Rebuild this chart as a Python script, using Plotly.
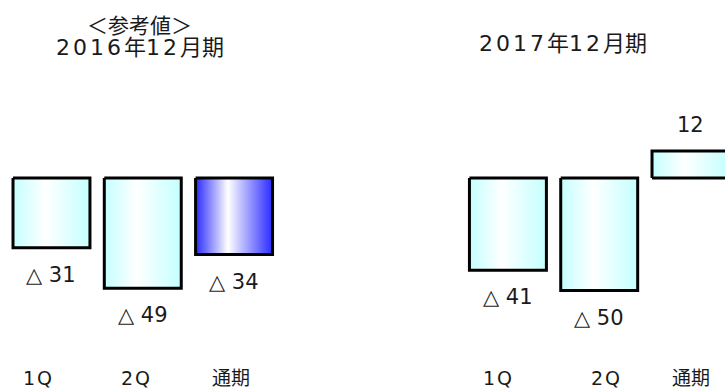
import re
import plotly.graph_objects as go

# Operating income by quarter (units as published; negatives shown with △)
periods = ["2016年12月期", "2017年12月期"]
categories = ["1Q", "2Q", "通期"]
values_2016 = [-31, -49, -34]
values_2017 = [-41, -50, 12]
period_notes = ["＜参考値＞", ""]

# Slot positions along the shared x axis (three bars per period, gap between periods)
slots = [[0, 1, 2], [5, 6, 7]]
bar_width = 0.843

cyan_scale = [[0.0, "#c4ffff"], [0.42, "#ffffff"], [1.0, "#c4ffff"]]
blue_scale = [[0.0, "#2a2aff"], [0.42, "#ffffff"], [1.0, "#2a2aff"]]

num_font = "DejaVu Sans, Noto Sans CJK JP, sans-serif"
cjk_font = "Noto Sans CJK JP, DejaVu Sans, sans-serif"


def wide_chars(s, pattern=r"(\d+)", spacing=3):
    """Open up the Latin/digit runs of a label a little."""
    return re.sub(pattern, rf'<span style="letter-spacing:{spacing}px">\1</span>', s)


fig = go.Figure()
annotations = []

# Small horizontal nudges for the category captions under each group
caption_nudge = [[-13, -6, -3], [-9, 7, 1]]

for g, vals in enumerate([values_2016, values_2017]):
    for i, v in enumerate(vals):
        xc = slots[g][i]
        x0, x1 = xc - bar_width / 2, xc + bar_width / 2
        scale = blue_scale if (g == 0 and categories[i] == "通期") else cyan_scale
        fig.add_trace(go.Scatter(
            x=[x0, x1, x1, x0, x0],
            y=[0, 0, v, v, 0],
            mode="lines",
            fill="toself",
            fillgradient=dict(type="horizontal", colorscale=scale),
            line=dict(color="#000000", width=3),
            hoverinfo="skip",
            showlegend=False,
        ))
        label = f"△ {abs(v)}" if v < 0 else f"{v}"
        annotations.append(dict(
            x=xc, y=v, xref="x", yref="y",
            text=label, showarrow=False,
            yshift=-27 if v < 0 else 26,
            font=dict(family=num_font, size=21, color="#1a1a1a"),
            xanchor="center", yanchor="middle",
        ))
        annotations.append(dict(
            x=xc, y=1 - 378 / 388, xref="x", yref="paper",
            xshift=caption_nudge[g][i],
            text=wide_chars(categories[i], r"([0-9A-Z]+)", 2), showarrow=False,
            font=dict(family=num_font, size=19, color="#1a1a1a"),
            xanchor="center", yanchor="middle",
        ))

# Period headings
annotations.append(dict(
    x=139.5 / 725, y=1 - 24 / 388, xref="paper", yref="paper",
    text=period_notes[0], showarrow=False,
    font=dict(family=cjk_font, size=21, color="#1a1a1a"),
    xanchor="center", yanchor="middle",
))
annotations.append(dict(
    x=139.5 / 725, y=1 - 47 / 388, xref="paper", yref="paper",
    text=wide_chars(periods[0]), showarrow=False,
    font=dict(family=num_font, size=22, color="#1a1a1a"),
    xanchor="center", yanchor="middle",
))
annotations.append(dict(
    x=563 / 725, y=1 - 43 / 388, xref="paper", yref="paper",
    text=wide_chars(periods[1]), showarrow=False,
    font=dict(family=num_font, size=22, color="#1a1a1a"),
    xanchor="center", yanchor="middle",
))

fig.update_layout(
    width=725, height=388,
    margin=dict(l=0, r=0, t=0, b=0),
    paper_bgcolor="#ffffff", plot_bgcolor="#ffffff",
    xaxis=dict(range=[-0.564, 7.378], visible=False, fixedrange=True),
    yaxis=dict(range=[-93.33, 79.11], visible=False, fixedrange=True),
    annotations=annotations,
    showlegend=False,
)

fig.write_html("out.html")
